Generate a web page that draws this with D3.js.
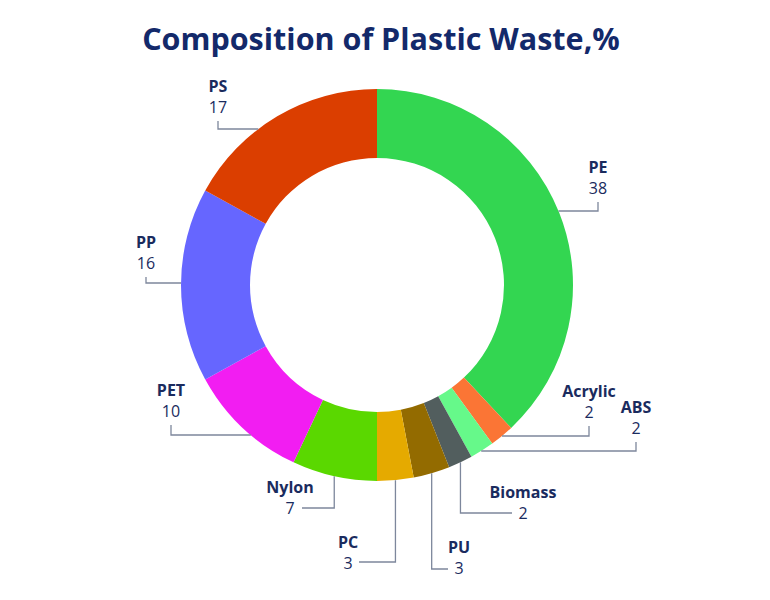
<!DOCTYPE html>
<html lang="en">
<head>
<meta charset="UTF-8">
<title>Composition of Plastic Waste</title>
<style>
  body { margin: 0; background: #fff; font-family: "Open Sans", sans-serif; }
</style>
</head>
<body>
<div id="chart"></div>
<script src="https://cdn.jsdelivr.net/npm/d3@7"></script>
<script>
// data, clockwise from 12 o'clock
var materials = ["PE", "Acrylic", "ABS", "Biomass", "PU", "PC", "Nylon", "PET", "PP", "PS"];
var shares = [38, 2, 2, 2, 3, 3, 7, 10, 16, 17];
var sliceColors = ["#33d651", "#fb7535", "#66f98a", "#525e5e", "#936b00", "#e5aa00", "#5ad800", "#f21df2", "#6666ff", "#db3e00"];

// label placement: "h" = horizontal leg then up to label, "v" = down then sideways to label
var labelLayout = [
  {kind: "h", lineY: 211, x: 598, y: 173},
  {kind: "h", lineY: 436, x: 589, y: 397},
  {kind: "h", lineY: 451, x: 636, y: 413},
  {kind: "v", lineY: 513, x: 523, y: 498, endX: 512},
  {kind: "v", lineY: 569, x: 459, y: 553, endX: 448},
  {kind: "v", lineY: 562, x: 348, y: 548, endX: 359},
  {kind: "v", lineY: 508, x: 290, y: 493, endX: 302},
  {kind: "h", lineY: 435, x: 171, y: 396},
  {kind: "h", lineY: 283, x: 146, y: 248},
  {kind: "h", lineY: 129, x: 218, y: 92}
];

var width = 770, height = 600;
var cx = 377, cy = 285, outerR = 196, innerR = 127;
var textColor = "#1a2b5e", lineColor = "#7d879c";

var svg = d3.select("#chart").append("svg")
    .attr("width", width)
    .attr("height", height);

svg.append("text")
    .attr("x", 381)
    .attr("y", 50)
    .attr("text-anchor", "middle")
    .style("font-size", "30.5px")
    .style("font-weight", "bold")
    .style("fill", "#13296a")
    .text("Composition of Plastic Waste,%");

var rows = materials.map(function(m, i) { return {name: m, value: shares[i], color: sliceColors[i], layout: labelLayout[i]}; });

var pie = d3.pie().sort(null).value(function(d) { return d.value; });
var arc = d3.arc().innerRadius(innerR).outerRadius(outerR);
var arcs = pie(rows);

var g = svg.append("g").attr("transform", "translate(" + cx + "," + cy + ")");
g.selectAll("path")
  .data(arcs)
  .enter().append("path")
    .attr("d", arc)
    .style("fill", function(d) { return d.data.color; });

// leader lines + labels
arcs.forEach(function(a) {
  var L = a.data.layout;
  var mid = (a.startAngle + a.endAngle) / 2;
  var pts;
  if (L.kind === "h") {
    var dy = L.lineY - cy;
    var dx = Math.sqrt(outerR * outerR - dy * dy);
    var sx = Math.sin(mid) >= 0 ? cx + dx : cx - dx;
    pts = [[sx, L.lineY], [L.x, L.lineY], [L.x, L.y + 29]];
  } else {
    var vx = cx + outerR * Math.sin(mid);
    var vy = cy - outerR * Math.cos(mid);
    pts = [[vx, vy], [vx, L.lineY], [L.endX, L.lineY]];
  }
  svg.append("path")
      .attr("d", d3.line()(pts))
      .style("fill", "none")
      .style("stroke", lineColor)
      .style("stroke-width", 1.3);

  svg.append("text")
      .attr("x", L.x)
      .attr("y", L.y)
      .attr("text-anchor", "middle")
      .style("font-size", "16px")
      .style("font-weight", "bold")
      .style("fill", textColor)
      .text(a.data.name);
  svg.append("text")
      .attr("x", L.x)
      .attr("y", L.y + 21)
      .attr("text-anchor", "middle")
      .style("font-size", "16px")
      .style("fill", textColor)
      .text(a.data.value);
});
</script>
</body>
</html>
